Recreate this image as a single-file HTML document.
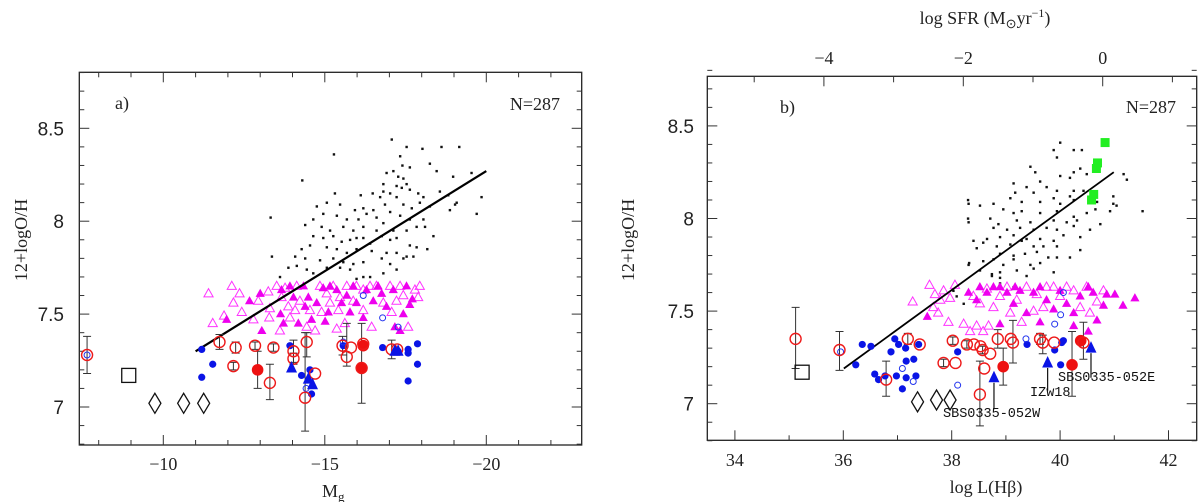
<!DOCTYPE html>
<html><head><meta charset="utf-8"><style>
html,body{margin:0;padding:0;background:#fff;}
svg{display:block;}
.tk{font-family:"Liberation Serif",serif;font-size:18px;fill:#222;}
.tky{font-family:"Liberation Sans",sans-serif;font-size:19px;fill:#222;}
.ttl{font-family:"Liberation Serif",serif;font-size:18px;fill:#222;}
.lab{font-family:"Liberation Mono",monospace;font-size:13.5px;fill:#111;}
</style></head><body>
<svg id="fig" width="1200" height="502" viewBox="0 0 1200 502" xmlns="http://www.w3.org/2000/svg">
<g id="pa"></g>
<g id="pb"></g>
<text class="ttl" transform="translate(27,240) rotate(-90)" text-anchor="middle">12+logO/H</text>
<text class="ttl" x="322" y="497">M<tspan font-size="13" dy="4">g</tspan></text>
<text class="ttl" x="115" y="109">a)</text>
<text class="ttl" x="560" y="110" text-anchor="end">N=287</text>
<text class="ttl" transform="translate(634,240) rotate(-90)" text-anchor="middle">12+logO/H</text>
<text class="ttl" x="986" y="493" text-anchor="middle">log  L(Hβ)</text>
<text class="ttl" x="985" y="24" text-anchor="middle">log  SFR  (M<tspan font-size="13" dy="4">⊙</tspan><tspan dy="-4">yr</tspan><tspan font-size="12" dy="-7">−1</tspan><tspan dy="7">)</tspan></text>
<text class="ttl" x="780" y="113">b)</text>
<text class="ttl" x="1176" y="113" text-anchor="end">N=287</text>
<text class="lab" x="943" y="417">SBS0335-052W</text>
<text class="lab" x="1030" y="396">IZw18</text>
<text class="lab" x="1058" y="381">SBS0335-052E</text>
</svg>
<script>
// ---------- Panel a data (Mg, 12+logO/H) ----------
const aFit = [[-11, 7.30], [-20, 8.27]];
const aDots = [[-17.07,8.44],[-17.53,8.40],[-18.02,8.39],[-18.61,8.40],[-19.16,8.40],[-15.28,8.36],[-17.33,8.35],[-18.25,8.31],[-17.40,8.30],[-17.63,8.29],[-16.91,8.26],[-17.12,8.27],[-17.27,8.24],[-17.43,8.23],[-18.46,8.27],[-18.97,8.24],[-19.54,8.26],[-14.30,8.22],[-16.81,8.20],[-17.22,8.19],[-17.38,8.18],[-17.53,8.20],[-17.63,8.17],[-16.81,8.16],[-17.02,8.15],[-17.22,8.13],[-17.89,8.15],[-18.05,8.13],[-18.56,8.16],[-18.82,8.14],[-19.08,8.10],[-19.85,8.13],[-15.31,8.15],[-16.11,8.14],[-16.48,8.15],[-16.71,8.13],[-15.06,8.10],[-15.47,8.09],[-15.93,8.06],[-16.19,8.07],[-16.50,8.06],[-16.86,8.09],[-17.43,8.09],[-17.69,8.07],[-17.94,8.10],[-18.25,8.08],[-18.87,8.06],[-19.03,8.09],[-19.70,8.04],[-13.32,8.02],[-14.75,8.08],[-14.95,8.04],[-15.37,8.03],[-15.68,8.01],[-16.04,8.01],[-16.29,8.04],[-16.60,8.02],[-17.02,8.05],[-17.33,8.03],[-17.63,8.01],[-18.05,8.01],[-18.10,7.97],[-14.39,7.98],[-14.64,8.01],[-14.90,7.97],[-15.16,7.95],[-15.57,7.97],[-15.88,7.95],[-16.19,7.97],[-16.60,7.95],[-16.81,7.99],[-17.12,7.95],[-17.53,7.95],[-17.84,7.97],[-18.36,7.92],[-14.64,7.92],[-14.95,7.91],[-15.26,7.92],[-15.52,7.89],[-15.78,7.90],[-15.98,7.91],[-16.19,7.91],[-16.40,7.88],[-16.76,7.92],[-17.02,7.90],[-17.22,7.91],[-17.63,7.87],[-17.84,7.86],[-18.17,7.85],[-14.28,7.85],[-14.54,7.87],[-15.06,7.86],[-15.37,7.85],[-15.68,7.83],[-15.98,7.85],[-16.45,7.84],[-16.91,7.83],[-17.22,7.83],[-17.53,7.81],[-13.36,7.81],[-14.08,7.81],[-14.39,7.80],[-14.85,7.79],[-15.26,7.80],[-15.57,7.78],[-15.88,7.77],[-16.19,7.78],[-16.76,7.80],[-17.02,7.77],[-17.43,7.80],[-17.74,7.81],[-13.87,7.75],[-14.13,7.76],[-14.44,7.74],[-15.06,7.75],[-15.47,7.75],[-15.78,7.74],[-16.19,7.70],[-16.40,7.70],[-16.81,7.72],[-17.22,7.74],[-13.61,7.70],[-14.64,7.72],[-15.98,7.69]];
const aMagOpen = [[-11.40,7.61],[-12.12,7.65],[-12.36,7.61],[-12.17,7.56],[-12.43,7.51],[-11.88,7.49],[-11.53,7.45],[-12.79,7.47],[-12.94,7.57],[-13.25,7.62],[-13.30,7.53],[-13.28,7.48],[-13.51,7.65],[-13.66,7.59],[-13.87,7.54],[-13.61,7.41],[-13.92,7.48],[-14.13,7.65],[-14.23,7.57],[-14.44,7.43],[-14.70,7.41],[-14.54,7.52],[-14.85,7.65],[-15.06,7.61],[-15.16,7.56],[-15.26,7.65],[-15.47,7.59],[-15.68,7.65],[-15.88,7.57],[-15.62,7.45],[-15.98,7.65],[-16.19,7.52],[-16.45,7.43],[-16.60,7.65],[-16.81,7.56],[-17.07,7.51],[-17.22,7.57],[-17.43,7.60],[-17.58,7.43],[-17.79,7.63],[-17.94,7.65],[-17.89,7.59],[-17.02,7.65],[-17.33,7.65],[-15.37,7.42],[-16.40,7.65],[-16.19,7.63],[-15.42,7.52],[-14.90,7.51],[-14.08,7.52],[-13.77,7.64]];
const aMagFilled = [[-11.96,7.47],[-12.67,7.57],[-13.00,7.61],[-13.05,7.41],[-13.66,7.63],[-13.63,7.50],[-13.72,7.45],[-13.92,7.65],[-14.03,7.59],[-14.18,7.45],[-14.34,7.65],[-14.39,7.54],[-14.49,7.59],[-14.59,7.47],[-14.75,7.56],[-14.95,7.64],[-15.01,7.46],[-15.11,7.51],[-15.37,7.63],[-15.52,7.56],[-15.68,7.60],[-15.78,7.51],[-15.98,7.56],[-16.19,7.48],[-16.29,7.63],[-16.50,7.57],[-16.76,7.61],[-16.91,7.54],[-17.12,7.63],[-17.17,7.43],[-17.33,7.41],[-17.53,7.65],[-17.63,7.55],[-17.71,7.58],[-17.43,7.50],[-16.65,7.65],[-15.16,7.65],[-15.88,7.65]];
const aBlueFilled = [[-11.19,7.31],[-11.53,7.23],[-11.19,7.16],[-13.92,7.33],[-14.28,7.17],[-14.59,7.07],[-15.57,7.33],[-16.16,7.33],[-16.14,7.21],[-16.79,7.32],[-17.27,7.30],[-17.58,7.31],[-17.58,7.29],[-17.87,7.34],[-17.87,7.23],[-17.58,7.14],[-14.54,7.20]];
const aBlueOpen = [[-16.19,7.60],[-16.79,7.48],[-17.27,7.43],[-14.42,7.10],[-15.57,7.35],[-7.64,7.28]];
const aBlueTri = [[-13.97,7.21],[-14.49,7.15],[-14.62,7.12],[-17.27,7.30],[-17.17,7.30]];
const aRedOpen = [[-7.64,7.28,0.1,0.1],[-11.74,7.35,0.04,0.04],[-12.24,7.32,0.03,0.03],[-12.84,7.33,0.02,0.02],[-13.41,7.32,0.02,0.02],[-12.17,7.22,0.02,0.02],[-13.30,7.13,0.09,0.1],[-14.03,7.30,0.06,0.06],[-14.03,7.26,0.03,0.03],[-14.44,7.35,0.08,0.05],[-14.70,7.18,0,0],[-14.39,7.05,0.18,0.35],[-15.55,7.33,0.05,0.05],[-15.81,7.32,0,0],[-15.68,7.27,0.05,0.18],[-16.14,7.21,0.19,0.24],[-16.19,7.34,0,0],[-17.07,7.31,0.05,0.05],[-17.24,7.31,0,0]];
const aRedFilled = [[-12.92,7.20,0.1,0.1],[-16.19,7.33,0,0],[-16.14,7.21,0,0]];
const aSquare = [[-8.93,7.17]];
const aDiamond = [[-9.74,7.02],[-10.63,7.02],[-11.25,7.02]];
const aXTicks = [-10,-15,-20];
const aXTickLabels = ["−10","−15","−20"];
const yTicks = [7,7.5,8,8.5];
const yTickLabels = ["7","7.5","8","8.5"];

// ---------- Panel b data (log L(Hbeta), 12+logO/H) ----------
const bFit = [[36.01,7.19],[40.99,8.25]];
const bGreen = [[40.83,8.41],[40.69,8.30],[40.67,8.27],[40.62,8.13],[40.58,8.10]];
const bDots = [[40.00,8.41],[39.88,8.37],[40.25,8.37],[40.40,8.37],[39.94,8.33],[39.45,8.28],[40.37,8.27],[40.25,8.25],[39.54,8.25],[40.00,8.23],[40.18,8.22],[40.49,8.24],[39.14,8.19],[39.63,8.20],[39.38,8.17],[39.75,8.17],[39.94,8.15],[40.25,8.15],[40.43,8.15],[39.51,8.14],[39.17,8.14],[40.18,8.12],[39.88,8.11],[38.77,8.08],[38.31,8.08],[38.52,8.07],[39.08,8.11],[39.29,8.09],[39.63,8.09],[40.00,8.08],[40.25,8.10],[40.68,8.09],[40.98,8.08],[38.95,8.05],[39.29,8.04],[39.14,8.03],[39.63,8.03],[39.94,8.04],[40.25,8.01],[40.49,8.03],[40.92,8.04],[38.71,8.00],[38.31,7.98],[38.86,7.97],[39.20,7.99],[39.45,7.98],[39.88,7.99],[40.12,7.98],[40.31,7.99],[38.77,7.95],[39.02,7.94],[39.26,7.95],[39.51,7.94],[39.75,7.95],[39.94,7.94],[40.25,7.96],[40.55,7.94],[38.65,7.89],[38.89,7.90],[39.14,7.91],[39.38,7.89],[39.63,7.89],[39.88,7.88],[40.06,7.91],[40.37,7.90],[38.40,7.88],[38.58,7.87],[38.83,7.85],[39.08,7.86],[39.29,7.88],[39.51,7.85],[39.69,7.85],[39.94,7.85],[38.46,7.84],[38.89,7.81],[39.14,7.80],[39.35,7.81],[39.57,7.82],[39.78,7.79],[39.94,7.79],[40.18,7.79],[40.37,7.83],[38.58,7.77],[38.77,7.78],[38.95,7.75],[39.14,7.78],[39.45,7.75],[39.63,7.76],[38.31,7.75],[38.52,7.72],[38.74,7.70],[38.89,7.71],[39.20,7.72],[39.51,7.73],[39.88,7.71],[38.74,7.69],[38.89,7.68],[39.38,7.69],[40.74,7.97],[41.04,8.07],[41.23,8.21],[41.17,8.24],[40.65,8.05],[40.98,8.12],[38.09,7.58],[38.22,7.54],[38.03,7.61],[38.89,7.65],[39.14,7.63],[41.52,8.04],[38.30,8.10],[38.30,8.00],[38.32,7.76]];
const bMagOpen = [[37.28,7.55],[37.59,7.64],[37.69,7.59],[37.79,7.56],[37.66,7.52],[37.85,7.61],[37.75,7.49],[38.06,7.64],[37.97,7.57],[37.94,7.44],[38.22,7.43],[38.46,7.42],[38.40,7.58],[38.52,7.54],[38.65,7.62],[38.68,7.42],[38.34,7.39],[38.77,7.52],[38.89,7.58],[39.02,7.63],[39.08,7.49],[39.20,7.56],[39.38,7.63],[39.29,7.44],[39.57,7.59],[39.69,7.52],[39.88,7.63],[40.00,7.58],[40.25,7.61],[40.37,7.52],[40.55,7.49],[40.68,7.55],[40.80,7.61],[40.49,7.63],[38.58,7.39],[39.51,7.50],[39.75,7.63],[40.12,7.63]];
const bMagFilled = [[37.55,7.47],[38.31,7.60],[38.46,7.56],[38.65,7.60],[38.77,7.63],[38.89,7.43],[39.02,7.60],[39.14,7.54],[39.26,7.61],[39.38,7.49],[39.51,7.60],[39.63,7.44],[39.75,7.56],[39.88,7.51],[40.00,7.61],[40.12,7.54],[40.25,7.49],[40.37,7.58],[40.52,7.63],[40.61,7.60],[40.68,7.45],[40.80,7.53],[40.86,7.59],[41.01,7.59],[41.16,7.53],[41.38,7.57],[40.52,7.39],[40.25,7.42],[39.63,7.63],[38.89,7.63],[39.17,7.63],[38.52,7.63]];
const bBlueFilled = [[36.23,7.21],[36.35,7.32],[36.51,7.31],[36.58,7.16],[36.65,7.13],[36.77,7.15],[36.95,7.35],[37.02,7.32],[36.88,7.28],[36.98,7.15],[37.09,7.08],[37.16,7.23],[37.16,7.14],[37.15,7.30],[37.30,7.24],[37.34,7.15],[37.39,7.32],[38.11,7.28],[39.39,7.32],[39.90,7.29],[40.01,7.21],[40.06,7.34],[40.03,7.33]];
const bBlueOpen = [[35.95,7.28],[37.09,7.19],[37.29,7.12],[38.11,7.10],[39.37,7.35],[39.90,7.43],[40.01,7.48],[40.06,7.60]];
const bBlueTri = [[38.78,7.14],[39.77,7.22],[40.57,7.30]];
const bArrowEnds = [6.97, 7.07, 7.14];
const bRedOpen = [[35.12,7.35,0.16,0.17],[35.93,7.29,0.11,0.1],[36.79,7.13,0.09,0.1],[37.19,7.35,0.03,0.03],[37.41,7.32,0,0],[37.85,7.22,0.02,0.02],[38.07,7.22,0,0],[38.02,7.34,0.02,0.02],[38.28,7.32,0.02,0.02],[38.41,7.32,0,0],[38.53,7.31,0,0],[38.57,7.29,0.02,0.02],[38.71,7.27,0,0],[38.52,7.05,0.17,0.18],[38.60,7.19,0,0],[38.85,7.35,0.05,0.05],[39.09,7.35,0,0],[39.13,7.33,0.11,0.12],[39.63,7.35,0.03,0.03],[39.68,7.33,0.06,0.04],[39.89,7.33,0,0],[40.43,7.33,0.09,0.11]];
const bRedFilled = [[38.95,7.20,0.1,0.1],[40.22,7.21,0.17,0.18],[40.38,7.34,0,0]];
const bSquare = [[35.24,7.17]];
const bDiamond = [[37.37,7.01],[37.72,7.02],[37.97,7.02]];
const bXTicks = [34,36,38,40,42];
const bXTickLabels = ["34","36","38","40","42"];
const bTopTicks = [-4,-2,0];
const bTopTickLabels = ["−4","−2","0"];

const NS = "http://www.w3.org/2000/svg";
function mk(parent, tag, attrs){const e=document.createElementNS(NS,tag);for(const k in attrs)e.setAttribute(k,attrs[k]);parent.appendChild(e);return e;}

function drawPanel(g, P, D, pfx){
  const X=P.x, Y=P.y;
  const fr = mk(g,"rect",{x:P.l,y:P.t,width:P.r-P.l,height:P.b-P.t,fill:"none",stroke:"#222","stroke-width":1.3});
  
  
  for(let v=6.8; v<=8.801; v+=0.1){
    const yy=Y(v); const major=Math.abs(v*2-Math.round(v*2))<0.01; const L=major?10:5;
    const t1=mk(g,"line",{x1:P.l,x2:P.l+L,y1:yy,y2:yy,stroke:"#333","stroke-width":1});
    
    
    const t2=mk(g,"line",{x1:P.r,x2:P.r-L,y1:yy,y2:yy,stroke:"#333","stroke-width":1});
    
    
  }
  yTicks.forEach((v,i)=>{
    const t=mk(g,"text",{x:P.ylabX,y:Y(v)+7,"text-anchor":"end",class:"tky"}); t.textContent=yTickLabels[i];
    
    
  });
  for(let v=P.xmin; v<=P.xmax; v+=1){
    const xx=X(v); if(xx<P.l+1||xx>P.r-1) continue;
    const major=D.xTicks.indexOf(v)>=0; const L=major?10:5;
    const t1=mk(g,"line",{x1:xx,x2:xx,y1:P.b,y2:P.b-L,stroke:"#333","stroke-width":1});
    
    
    if(!P.topX){
      const t2=mk(g,"line",{x1:xx,x2:xx,y1:P.t,y2:P.t+L,stroke:"#333","stroke-width":1});
      
      
    }
  }
  D.xTicks.forEach((v,i)=>{
    const t=mk(g,"text",{x:X(v),y:P.xlabY,"text-anchor":"middle",class:"tk"}); t.textContent=D.xLabels[i];
    
    
  });
  if(P.topX){
    for(let s=-5; s<=1; s++){
      const xx=P.topX(s); const major=bTopTicks.indexOf(s)>=0; const L=major?10:6;
      const t=mk(g,"line",{x1:xx,x2:xx,y1:P.t,y2:P.t+L,stroke:"#333","stroke-width":1});
      
      
    }
    bTopTicks.forEach((s,i)=>{
      const t=mk(g,"text",{x:P.topX(s),y:64,"text-anchor":"middle",class:"tk"}); t.textContent=bTopTickLabels[i];
      
      
    });
  }
  D.dots.forEach(p=>{
    const e=mk(g,"rect",{x:X(p[0])-1.1,y:Y(p[1])-1.1,width:2.4,height:2.4,fill:"#111"});
    
    
  });
  D.magOpen.forEach(p=>{
    const x=X(p[0]),y=Y(p[1]);
    const e=mk(g,"polygon",{points:`${x},${y-5} ${x-4.6},${y+3.2} ${x+4.6},${y+3.2}`,fill:"none",stroke:"#ff33ff","stroke-width":1});
    
    
  });
  D.magFilled.forEach(p=>{
    const x=X(p[0]),y=Y(p[1]);
    const e=mk(g,"polygon",{points:`${x},${y-5} ${x-4.6},${y+3.2} ${x+4.6},${y+3.2}`,fill:"#ee00ee"});
    
    
  });
  const ln=mk(g,"line",{x1:X(D.fit[0][0]),y1:Y(D.fit[0][1]),x2:X(D.fit[1][0]),y2:Y(D.fit[1][1]),stroke:"#000","stroke-width":P.lw});
  
  
  (D.green||[]).forEach(p=>{
    const e=mk(g,"rect",{x:X(p[0])-4.5,y:Y(p[1])-4.5,width:9,height:9,fill:"#22ee22"});
    
    
  });
  D.redOpen.concat(D.redFilled).forEach(p=>{
    if(p[2]===0&&p[3]===0) return;
    const x=X(p[0]),y1=Y(p[1]-p[2]),y2=Y(p[1]+p[3]);
    const e=mk(g,"path",{d:`M${x},${y1}V${y2}M${x-4},${y1}H${x+4}M${x-4},${y2}H${x+4}`,stroke:"#333","stroke-width":1,fill:"none"});
    
    
  });
  D.blueFilled.forEach(p=>{
    const e=mk(g,"circle",{cx:X(p[0]),cy:Y(p[1]),r:3.6,fill:"#0a14e6"});
    
    
  });
  D.blueOpen.forEach(p=>{
    const e=mk(g,"circle",{cx:X(p[0]),cy:Y(p[1]),r:3,fill:"none",stroke:"#2233ee","stroke-width":1});
    
    
  });
  D.redFilled.forEach(p=>{
    const e=mk(g,"circle",{cx:X(p[0]),cy:Y(p[1]),r:5.8,fill:"#ee1111"});
    
    
  });
  D.redOpen.forEach(p=>{
    const e=mk(g,"circle",{cx:X(p[0]),cy:Y(p[1]),r:5.5,fill:"none",stroke:"#ee1a1a","stroke-width":1.4});
    
    
  });
  D.blueTri.forEach((p,i)=>{
    const x=X(p[0]),y=Y(p[1]);
    if(D.arrowEnds){
      const a=mk(g,"line",{x1:x,y1:y+5,x2:x,y2:Y(D.arrowEnds[i]),stroke:"#111","stroke-width":1.2});
      
      
    }
    const e=mk(g,"polygon",{points:`${x},${y-7} ${x-5.5},${y+4.5} ${x+5.5},${y+4.5}`,fill:"#0a14e6"});
    
    
  });
  D.square.forEach(p=>{
    const e=mk(g,"rect",{x:X(p[0])-7,y:Y(p[1])-7,width:14,height:14,fill:"none",stroke:"#111","stroke-width":1.3});
    
    
  });
  D.diamond.forEach(p=>{
    const x=X(p[0]),y=Y(p[1]);
    const e=mk(g,"polygon",{points:`${x},${y-10} ${x+6},${y} ${x},${y+10} ${x-6},${y}`,fill:"none",stroke:"#111","stroke-width":1.3});
    
    
  });
}

const PA={l:79.3,r:581.7,t:72.3,b:445,xmin:-23,xmax:-7,lw:2.2,ylabX:64,xlabY:470,
  x:v=>163.3+(-10-v)*32.3, y:v=>407-(v-7)*185.8};
const PB={l:707.3,r:1196.7,t:76.3,b:440.3,xmin:34,xmax:42,lw:1.8,ylabX:694,xlabY:466,
  x:v=>843.3+(v-36)*54.2, y:v=>403.7-(v-7)*185.2, topX:s=>1102.7+s*69.7};
drawPanel(document.getElementById("pa"),PA,{fit:aFit,dots:aDots,magOpen:aMagOpen,magFilled:aMagFilled,blueFilled:aBlueFilled,blueOpen:aBlueOpen,blueTri:aBlueTri,redOpen:aRedOpen,redFilled:aRedFilled,square:aSquare,diamond:aDiamond,xTicks:aXTicks,xLabels:aXTickLabels},"panel-a");
drawPanel(document.getElementById("pb"),PB,{fit:bFit,dots:bDots,green:bGreen,magOpen:bMagOpen,magFilled:bMagFilled,blueFilled:bBlueFilled,blueOpen:bBlueOpen,blueTri:bBlueTri,arrowEnds:bArrowEnds,redOpen:bRedOpen,redFilled:bRedFilled,square:bSquare,diamond:bDiamond,xTicks:bXTicks,xLabels:bXTickLabels},"panel-b");
</script>
</body></html>
